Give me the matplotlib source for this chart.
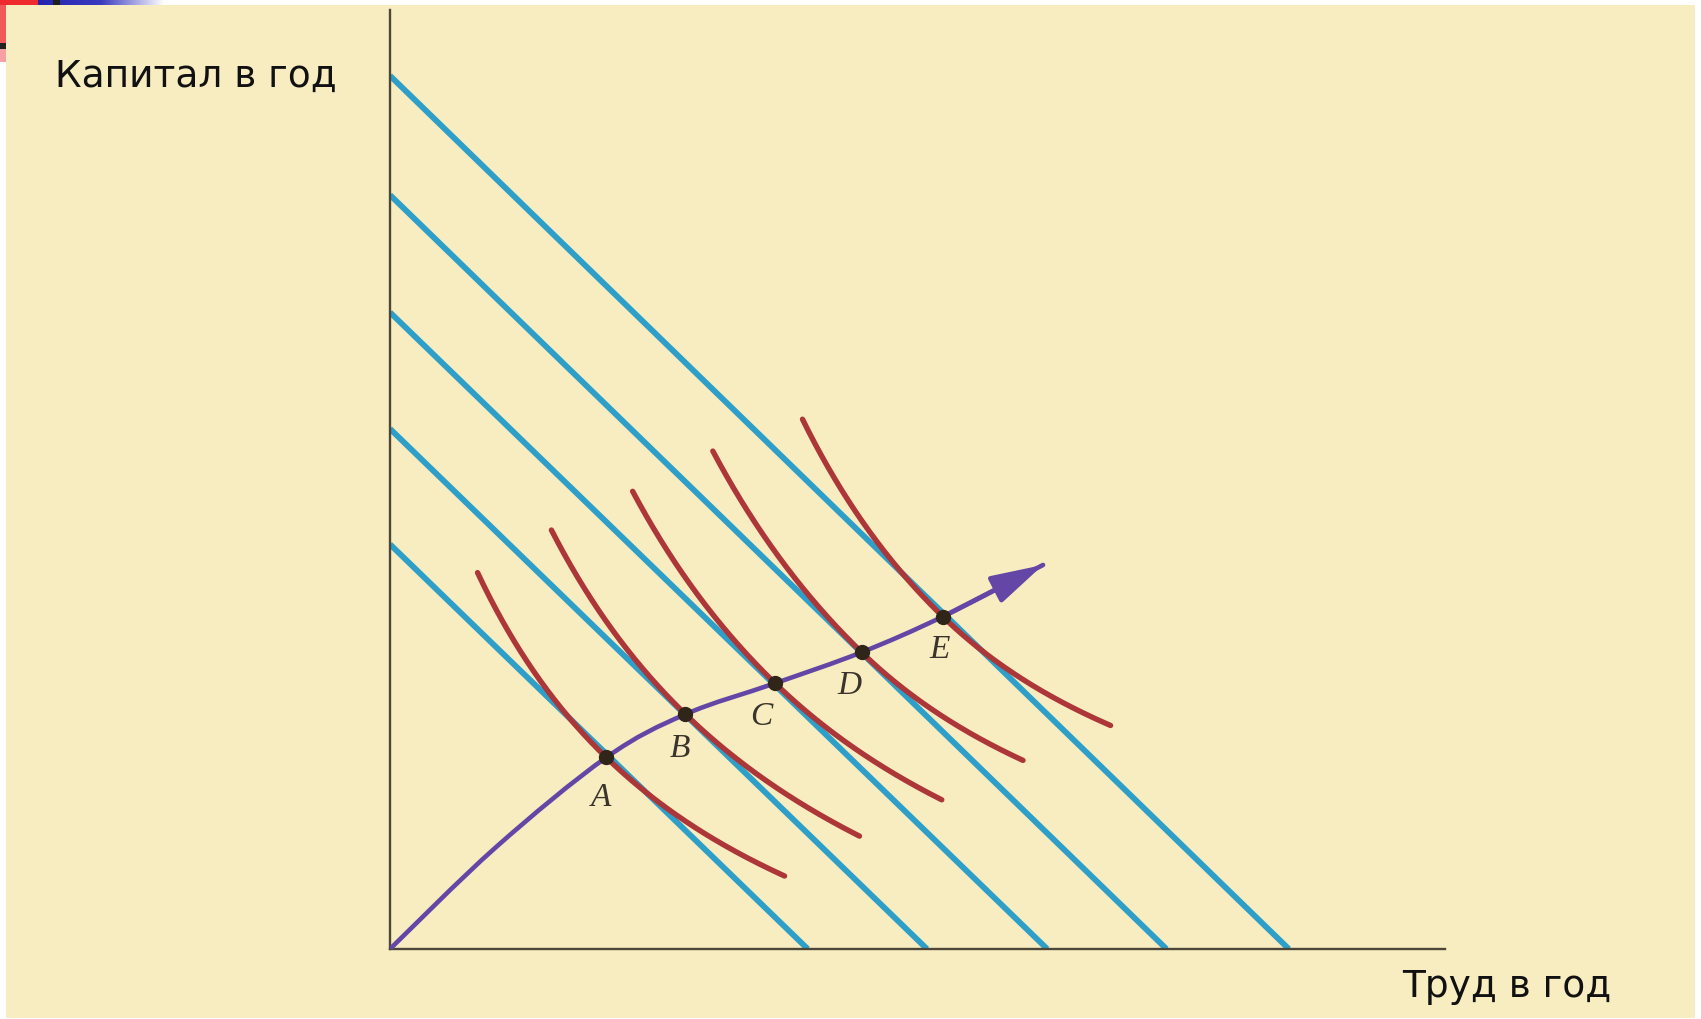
import numpy as np
import matplotlib
matplotlib.use("Agg")
import matplotlib.pyplot as plt
from matplotlib.path import Path
from matplotlib.patches import PathPatch, Rectangle
from matplotlib.colors import LinearSegmentedColormap

# ---- data (labour on x, capital on y, arbitrary units 0..100) ----
# isocost lines: intercepts on the labour and capital axes
isocost_labor = [39.6, 50.9, 62.3, 73.6, 85.2]
isocost_capital = [43.1, 55.4, 67.8, 80.3, 93.0]

# cost-minimising points on the expansion path
point_names = ["A", "B", "C", "D", "E"]
point_labor = [20.5, 28.0, 36.5, 44.7, 52.4]
point_capital = [20.4, 25.0, 28.3, 31.6, 35.4]

# labour range covered by each isoquant
isoquant_start = [8.3, 15.3, 23.0, 30.6, 39.1]
isoquant_end = [37.4, 44.5, 52.3, 60.0, 68.3]
# distance from the tangency point to the hyperbola asymptote,
# above (upper branch) and below (lower branch) the tangency point
isoquant_bend_upper = [37.5, 43.0, 48.0, 50.0, 43.0]
isoquant_bend_lower = [37.0, 43.0, 41.0, 34.0, 32.0]

# expansion path (long-run), from origin to the arrow tip
path_labor = [0.0, 10.0, 20.5, 28.0, 36.5, 44.7, 52.4, 61.9]
path_capital = [0.0, 10.8, 20.4, 25.0, 28.3, 31.6, 35.4, 40.9]

x_label = "Труд в год"
y_label = "Капитал в год"

# ---- style ----
BG = "#F8EDC0"
BLUE = "#2D9FC8"
RED = "#AD3638"
PURPLE = "#6446A6"
AXIS = "#4E4739"
DOT = "#2F2519"

W, H = 1701, 1019
fig = plt.figure(figsize=(W / 100, H / 100), dpi=100)
fig.patch.set_facecolor("white")

# page background
fig.patches.append(Rectangle((6 / W, 1 / H), (1695 - 6) / W, 1013 / H,
                             transform=fig.transFigure, facecolor=BG,
                             edgecolor="none", zorder=-10))
# slide template remnants in the top-left corner
fig.patches.append(Rectangle((0, 1 - 5 / H), 38 / W, 5 / H, transform=fig.transFigure,
                             facecolor="#EE2A2E", edgecolor="none", zorder=-5))
fig.patches.append(Rectangle((0, 1 - 43 / H), 6 / W, 38 / H, transform=fig.transFigure,
                             facecolor="#F0585A", edgecolor="none", zorder=-5))
fig.patches.append(Rectangle((0, 1 - 49 / H), 6 / W, 6 / H, transform=fig.transFigure,
                             facecolor="#222222", edgecolor="none", zorder=-5))
fig.patches.append(Rectangle((0, 1 - 62 / H), 6 / W, 13 / H, transform=fig.transFigure,
                             facecolor="#F7A0A2", edgecolor="none", zorder=-5))
bar = fig.add_axes([38 / W, 1 - 5 / H, 125 / W, 5 / H])
grad = np.linspace(0, 1, 256)[None, :]
bar.imshow(grad, aspect="auto",
           cmap=LinearSegmentedColormap.from_list("bar", ["#2323B0", "#3A3AC0", "#FFFFFF"]))
bar.axis("off")
fig.patches.append(Rectangle((53 / W, 1 - 5 / H), 7 / W, 5 / H, transform=fig.transFigure,
                             facecolor="#1E1E1E", edgecolor="none", zorder=5))

# main diagram axes: origin at pixel (390, 949)
ax = fig.add_axes([390 / W, (H - 949) / H, 1055 / W, 939 / H])
ax.set_facecolor("none")
ax.set_xlim(0, 100)
ax.set_ylim(0, 100)
ax.set_xticks([])
ax.set_yticks([])
for s in ("top", "right"):
    ax.spines[s].set_visible(False)
for s in ("left", "bottom"):
    ax.spines[s].set_color(AXIS)
    ax.spines[s].set_linewidth(1.7)

# isocost lines
for li, ki in zip(isocost_labor, isocost_capital):
    ax.plot([0, li], [ki, 0], color=BLUE, lw=4.2, solid_capstyle="butt", zorder=2)

# isoquants: hyperbola branches tangent to the isocost line at each point
for i in range(len(point_names)):
    slope = isocost_capital[i] / isocost_labor[i]
    L = np.linspace(isoquant_start[i], isoquant_end[i], 400)
    bend = np.where(L < point_labor[i], isoquant_bend_upper[i], isoquant_bend_lower[i])
    u = L - point_labor[i] + bend
    K = point_capital[i] + slope * bend ** 2 * (1 / u - 1 / bend)
    ax.plot(L, K, color=RED, lw=3.9, solid_capstyle="round", zorder=3)

# expansion path as a smooth cubic Bezier through the points
pts = np.column_stack([path_labor, path_capital])
verts = [pts[0]]
codes = [Path.MOVETO]
n = len(pts)
for i in range(n - 1):
    p0 = pts[max(i - 1, 0)]
    p1 = pts[i]
    p2 = pts[i + 1]
    p3 = pts[min(i + 2, n - 1)]
    verts += [p1 + (p2 - p0) / 6, p2 - (p3 - p1) / 6, p2]
    codes += [Path.CURVE4] * 3
ax.add_patch(PathPatch(Path(verts, codes), facecolor="none", edgecolor=PURPLE,
                       lw=3.3, capstyle="round", zorder=4))
ax.annotate("", xy=pts[-1], xytext=pts[-2],
            arrowprops=dict(arrowstyle="-|>,head_length=2.0,head_width=0.55",
                            mutation_scale=16, color=PURPLE, lw=3.3,
                            shrinkA=0, shrinkB=0), zorder=4)

# points and their letters
ax.plot(point_labor, point_capital, "o", color=DOT, ms=10, zorder=6)
label_offsets = [(-4, -29), (-4, -25), (-10, -24), (-9, -24), (-2, -24)]
for name, lx, ky, off in zip(point_names, point_labor, point_capital, label_offsets):
    ax.annotate(name, (lx, ky), xytext=off, textcoords="offset points",
                ha="center", va="center", fontsize=24, fontstyle="italic",
                family="Liberation Serif", color="#3A342C", zorder=7)

# axis titles
fig.text(55 / W, 1 - 87 / H, y_label, fontsize=27, family="DejaVu Sans",
         color="#111111", ha="left", va="baseline")
fig.text(1402 / W, 1 - 997 / H, x_label, fontsize=27, family="DejaVu Sans",
         color="#111111", ha="left", va="baseline")

fig.savefig("out.png", dpi=100)
